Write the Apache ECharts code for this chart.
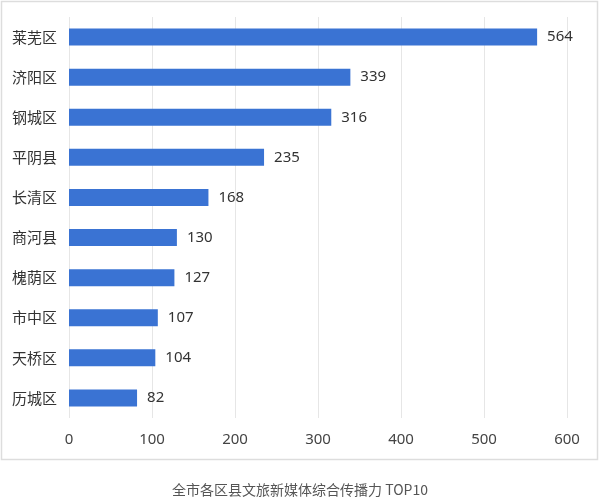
<!DOCTYPE html><html><head><meta charset="utf-8"><script src="https://cdn.jsdelivr.net/npm/echarts@6/dist/echarts.min.js"></script></head><body style="margin:0"><div id="c" style="width:600px;height:500px"></div><script>
const categories=['莱芜区','济阳区','钢城区','平阴县','长清区','商河县','槐荫区','市中区','天桥区','历城区'];
const values=[564,339,316,235,168,130,127,107,104,82];
const chart=echarts.init(document.getElementById('c'));
chart.setOption({
animation:false,
graphic:[{type:'rect',shape:{x:1.5,y:1.5,width:596,height:458},style:{fill:'none',stroke:'#ddd',lineWidth:1.5}}],
title:{text:'全市各区县文旅新媒体综合传播力 TOP10',left:'center',top:478,textStyle:{fontSize:14,fontWeight:'normal',color:'#555',fontFamily:'Noto Sans CJK SC'}},
grid:{left:69,right:33,top:17,bottom:82},
xAxis:{type:'value',min:0,max:600,interval:100,axisLine:{show:false},axisTick:{show:false},splitLine:{lineStyle:{color:'#e6e6e6'}},axisLabel:{fontSize:15,color:'#444',margin:14,fontFamily:'Noto Sans'}},
yAxis:{type:'category',inverse:true,data:categories,axisLine:{show:false},axisTick:{show:false},axisLabel:{fontSize:15,color:'#333',margin:12,fontFamily:'Noto Sans CJK SC'}},
series:[{type:'bar',data:values,barWidth:17,itemStyle:{color:'#3a73d3'},label:{show:true,position:'right',distance:10,fontSize:15,color:'#333',fontFamily:'Noto Sans'}}]
});
</script></body></html>
